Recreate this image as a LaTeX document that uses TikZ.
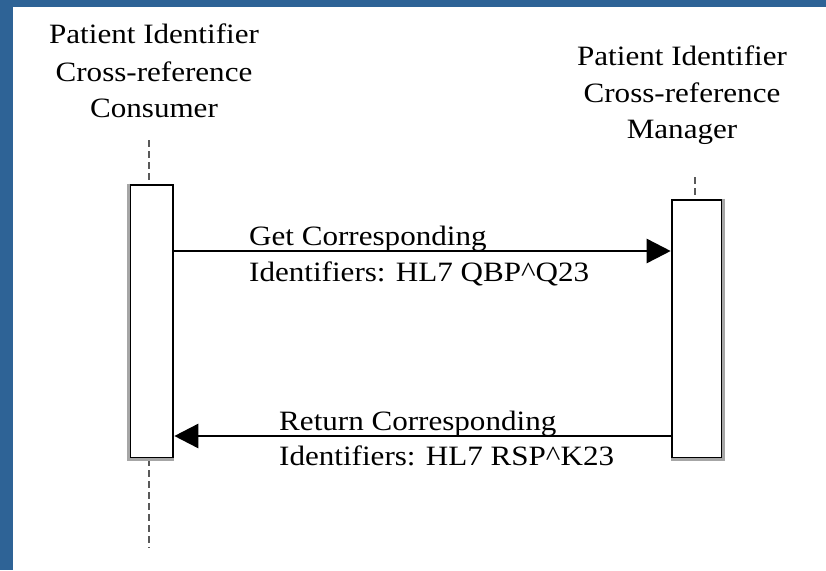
\documentclass[tikz,border=0pt]{standalone}
\usepackage{fontspec}
\setmainfont{Liberation Serif}
\usetikzlibrary{arrows.meta}
\definecolor{frameblue}{RGB}{46,99,150}
\begin{document}
\begin{tikzpicture}[x=1pt,y=-1pt,
  txt/.style={inner sep=0pt,font=\fontsize{28}{37}\selectfont,xscale=1.11,transform shape},
  titleline/.style={txt,anchor=base},
  msgline/.style={txt,anchor=base west},
  actbox/.style={draw=black,fill=white,line width=2.6pt,inner sep=0pt},
  lifeline/.style={draw=black!65,line width=2.6pt,dash pattern=on 7pt off 4pt},
  shade/.style={draw=black!35,line width=2.8pt},
  msg/.style={draw=black,line width=2.6pt,-{Triangle[length=24pt,width=24pt]}}]
\useasboundingbox (0,0) rectangle (826,570);
\fill[frameblue] (0,0) rectangle (826,570);
\fill[white] (13,7) rectangle (826,570);
% titles
\node[titleline] (c1) at (154,43) {Patient Identifier};
\node[titleline] (c2) at (154,81) {Cross-reference};
\node[titleline] (c3) at (154,117) {Consumer};
\node[titleline] (m1) at (682,65) {Patient Identifier};
\node[titleline] (m2) at (682,102) {Cross-reference};
\node[titleline] (m3) at (682,138) {Manager};
% lifelines
\coordinate (ctop) at (149,140);
\coordinate (cbot) at (149,548);
\coordinate (mtop) at (695,177);
\node[actbox,minimum width=43pt,minimum height=273pt] (cbox) at (151.5,321.5) {};
\node[actbox,minimum width=50pt,minimum height=258pt] (mbox) at (697,329) {};
\draw[lifeline] (ctop) -- (ctop |- cbox.north);
\draw[lifeline] (ctop |- cbox.south) -- (cbot);
\draw[lifeline] (mtop) -- (mtop |- mbox.north);
\draw[shade] (cbox.north west) -- (cbox.south west) -- (cbox.south east);
\draw[shade] (mbox.north east) -- (mbox.south east) -- (mbox.south west);
% messages
\coordinate (q) at (0,251);
\coordinate (r) at (0,436);
\draw[msg] (cbox.east |- q) -- (mbox.west |- q);
\draw[msg] (mbox.west |- r) -- (cbox.east |- r);
\node[msgline] (g1) at (249,245) {Get Corresponding};
\node[msgline] (g2) at (249,281) {Identifiers: HL7 QBP\^{}Q23};
\node[msgline] (r1) at (279,430) {Return Corresponding};
\node[msgline] (r2) at (279,465) {Identifiers: HL7 RSP\^{}K23};
\end{tikzpicture}
\end{document}
